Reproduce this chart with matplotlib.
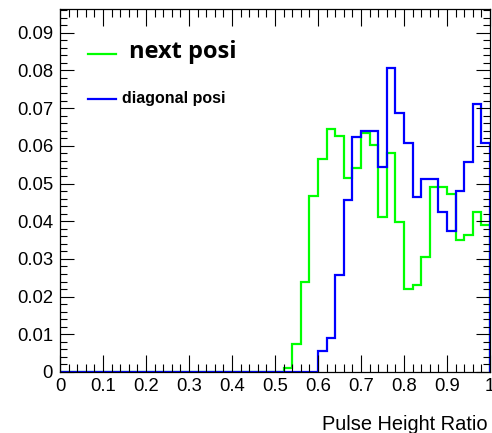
import numpy as np
import matplotlib
matplotlib.use("Agg")
import matplotlib.pyplot as plt
from matplotlib.ticker import MultipleLocator, FuncFormatter

# histogramas: 50 bins de 0 a 1
bordas = np.linspace(0, 1, 51)

next_posi = [0, 0, 0, 0, 0, 0, 0, 0, 0, 0,
             0, 0, 0, 0, 0, 0, 0, 0, 0, 0,
             0, 0, 0, 0, 0, 0, 0.0011, 0.0074, 0.024, 0.0467,
             0.0566, 0.0645, 0.0626, 0.0515, 0.054, 0.0633, 0.0601, 0.0412, 0.0582, 0.0399,
             0.0219, 0.0231, 0.0306, 0.0491, 0.0491, 0.0471, 0.035, 0.0363, 0.0424, 0.039]

diagonal_posi = [0, 0, 0, 0, 0, 0, 0, 0, 0, 0,
                 0, 0, 0, 0, 0, 0, 0, 0, 0, 0,
                 0, 0, 0, 0, 0, 0, 0, 0, 0, 0,
                 0.0056, 0.0089, 0.0257, 0.0456, 0.0624, 0.064, 0.064, 0.0543, 0.0806, 0.0688,
                 0.0608, 0.0463, 0.0512, 0.0512, 0.0424, 0.0375, 0.0481, 0.0558, 0.0711, 0.0607]

plt.rcParams['font.family'] = ['Liberation Sans', 'DejaVu Sans']

fig = plt.figure(figsize=(4.92, 4.33), dpi=100)
ax = fig.add_axes([60/492, 61/433, 430/492, 363/433])

ax.stairs(next_posi, bordas, color='#00ff00', lw=1.6, baseline=0)
ax.stairs(diagonal_posi, bordas, color='#0000ff', lw=1.6, baseline=0)

ax.set_xlim(0, 1)
ax.set_ylim(0, 0.0963)

ax.xaxis.set_major_locator(MultipleLocator(0.1))
ax.xaxis.set_minor_locator(MultipleLocator(0.02))
ax.yaxis.set_major_locator(MultipleLocator(0.01))
ax.yaxis.set_minor_locator(MultipleLocator(0.002))
fmt = FuncFormatter(lambda v, p: "0" if abs(v) < 1e-9 else "{:g}".format(round(v, 3)))
ax.xaxis.set_major_formatter(fmt)
ax.yaxis.set_major_formatter(fmt)

ax.tick_params(which='both', direction='in', top=True, right=True, labelsize=13.3, width=0.8)
ax.tick_params(which='major', length=12)
ax.tick_params(which='minor', length=6)
ax.tick_params(axis='x', which='major', pad=4.5)
ax.tick_params(axis='y', which='major', length=10, pad=5)
ax.tick_params(axis='y', which='minor', length=5)

for s in ax.spines.values():
    s.set_linewidth(0.9)

# titulo do eixo x
fig.text(322/492, 1-430/433, "Pulse Height Ratio", fontsize=14.4, ha='left', va='baseline')

# legenda manual
fig.add_artist(plt.Line2D([88/492, 116/492], [1-54/433, 1-54/433], color='#00ff00', lw=1.6))
fig.add_artist(plt.Line2D([88/492, 116/492], [1-99/433, 1-99/433], color='#0000ff', lw=1.6))
fig.text(129/492, 1-52/433, "next posi", fontsize=17, fontweight='bold',
         family='Open Sans', va='center', ha='left')
fig.text(122/492, 1-99/433, "diagonal posi", fontsize=11.5, fontweight='bold',
         va='center', ha='left')

fig.savefig("out.png", dpi=100)
